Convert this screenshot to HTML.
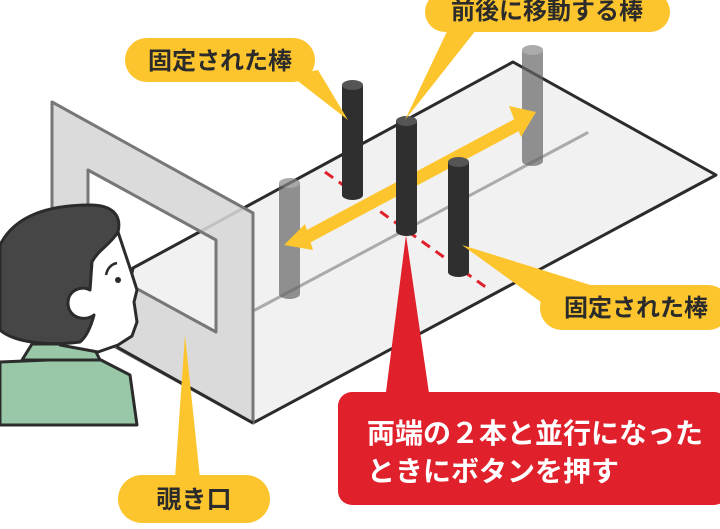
<!DOCTYPE html>
<html><head><meta charset="utf-8"><style>
html,body{margin:0;padding:0;background:#fff;}
svg{display:block}
text{font-family:"Liberation Sans","Noto Sans CJK JP",sans-serif;font-weight:bold;}
</style></head><body>
<svg width="720" height="529" viewBox="0 0 720 529" xmlns="http://www.w3.org/2000/svg">
<!-- plate -->
<polygon points="133,268 513,62 716,175 253,423 117,347" fill="#f1f1f1" stroke="#2b2b2b" stroke-width="3" stroke-linejoin="round"/>
<line x1="255" y1="310" x2="587" y2="133" stroke="#aaa" stroke-width="3" stroke-linecap="round"/>
<!-- red dashed -->
<line x1="325" y1="172" x2="487" y2="288" stroke="#e0202a" stroke-width="3" stroke-dasharray="10,7"/>
<!-- gray rods -->
<g opacity="0.7">
<rect x="279" y="183" width="21" height="111" fill="#666"/>
<ellipse cx="289.5" cy="183" rx="10.5" ry="5" fill="#888"/>
<ellipse cx="289.5" cy="294" rx="10.5" ry="5" fill="#666"/>
<rect x="522" y="50" width="21" height="111" fill="#666"/>
<ellipse cx="532.5" cy="50" rx="10.5" ry="5" fill="#888"/>
<ellipse cx="532.5" cy="161" rx="10.5" ry="5" fill="#666"/>
</g>
<!-- dark rods -->
<rect x="342" y="85" width="21" height="110" fill="#2f2f2f"/>
<ellipse cx="352.5" cy="195" rx="10.5" ry="5" fill="#2f2f2f"/>
<ellipse cx="352.5" cy="85" rx="10.5" ry="5" fill="#555"/>
<!-- arrow -->
<g fill="#fcc52e">
<polygon points="284,245 305,224 313,250"/>
<polygon points="536,112 509,106 521,137"/>
</g>
<polygon points="300,237 519,120 522,126 303,243" fill="#fcc52e" stroke="#fcc52e" stroke-width="6"/>
<rect x="396" y="121" width="21" height="110" fill="#2f2f2f"/>
<ellipse cx="406.5" cy="231" rx="10.5" ry="5" fill="#2f2f2f"/>
<ellipse cx="406.5" cy="121" rx="10.5" ry="5" fill="#555"/>
<rect x="448" y="162" width="21" height="110" fill="#2f2f2f"/>
<ellipse cx="458.5" cy="272" rx="10.5" ry="5" fill="#2f2f2f"/>
<ellipse cx="458.5" cy="162" rx="10.5" ry="5" fill="#555"/>
<!-- panel -->
<path d="M52,102 L253,213 L253,423 L52,312 Z M88,170 L88,262 L216,332 L216,240 Z" fill="#d6d6d6" fill-opacity="0.88" fill-rule="evenodd" stroke="#777" stroke-width="3" stroke-linejoin="round"/>
<line x1="117" y1="347" x2="253" y2="423" stroke="#2b2b2b" stroke-width="3"/>
<!-- person -->
<path d="M0,362 L97,358 L130,375 L137,425 L0,425 Z" fill="#98c8a8" stroke="#2b2b2b" stroke-width="3" stroke-linejoin="round"/>
<path d="M22,360 L32,344 L92,344 L100,360 Z" fill="#98c8a8" stroke="#2b2b2b" stroke-width="3" stroke-linejoin="round"/>
<path d="M95,250 L118,232 L130,268 L137,290 L134,302 L137,322 L132,336 L118,345 L98,352 L60,345 L60,300 Z" fill="#fff" stroke="#2b2b2b" stroke-width="3" stroke-linejoin="round"/>
<path d="M0,245 C15,215 50,205 90,205 C112,205 122,215 118,232 C110,245 98,250 92,262 L90,290 C82,285 68,290 68,303 C68,318 85,322 94,315 C90,330 85,338 80,342 C50,346 15,343 0,330 Z" fill="#464646" stroke="#2b2b2b" stroke-width="3" stroke-linejoin="round"/>
<circle cx="118" cy="280" r="3" fill="#2b2b2b"/>
<path d="M106,275 Q108,265 117,263" fill="none" stroke="#2b2b2b" stroke-width="2.5"/>
<!-- callouts yellow -->
<g fill="#fcc52e">
<rect x="125" y="38" width="190" height="44" rx="22"/>
<polygon points="290,75 318,70 348,120"/>
<rect x="425" y="-8" width="245" height="40" rx="20"/>
<polygon points="450,25 480,25 405,120"/>
<rect x="540" y="285" width="190" height="45" rx="22"/>
<polygon points="462,245 600,288 545,305"/>
<rect x="118" y="475" width="152" height="48" rx="24"/>
<polygon points="175,478 200,478 185,335"/>
</g>
<text x="220" y="69" font-size="24" text-anchor="middle" fill="#2b2b2b">固定された棒</text>
<text x="547" y="19" font-size="24" text-anchor="middle" fill="#2b2b2b">前後に移動する棒</text>
<text x="636" y="316" font-size="24" text-anchor="middle" fill="#2b2b2b">固定された棒</text>
<text x="194" y="508" font-size="25" text-anchor="middle" fill="#2b2b2b">覗き口</text>
<!-- red callout -->
<polygon points="385,400 430,400 406,235" fill="#e0202a"/>
<rect x="338" y="392" width="390" height="113" rx="14" fill="#e0202a"/>
<text x="367" y="443" font-size="28" fill="#fff">両端の２本と並行になった</text>
<text x="367" y="481" font-size="28" fill="#fff">ときにボタンを押す</text>
</svg>
</body></html>
